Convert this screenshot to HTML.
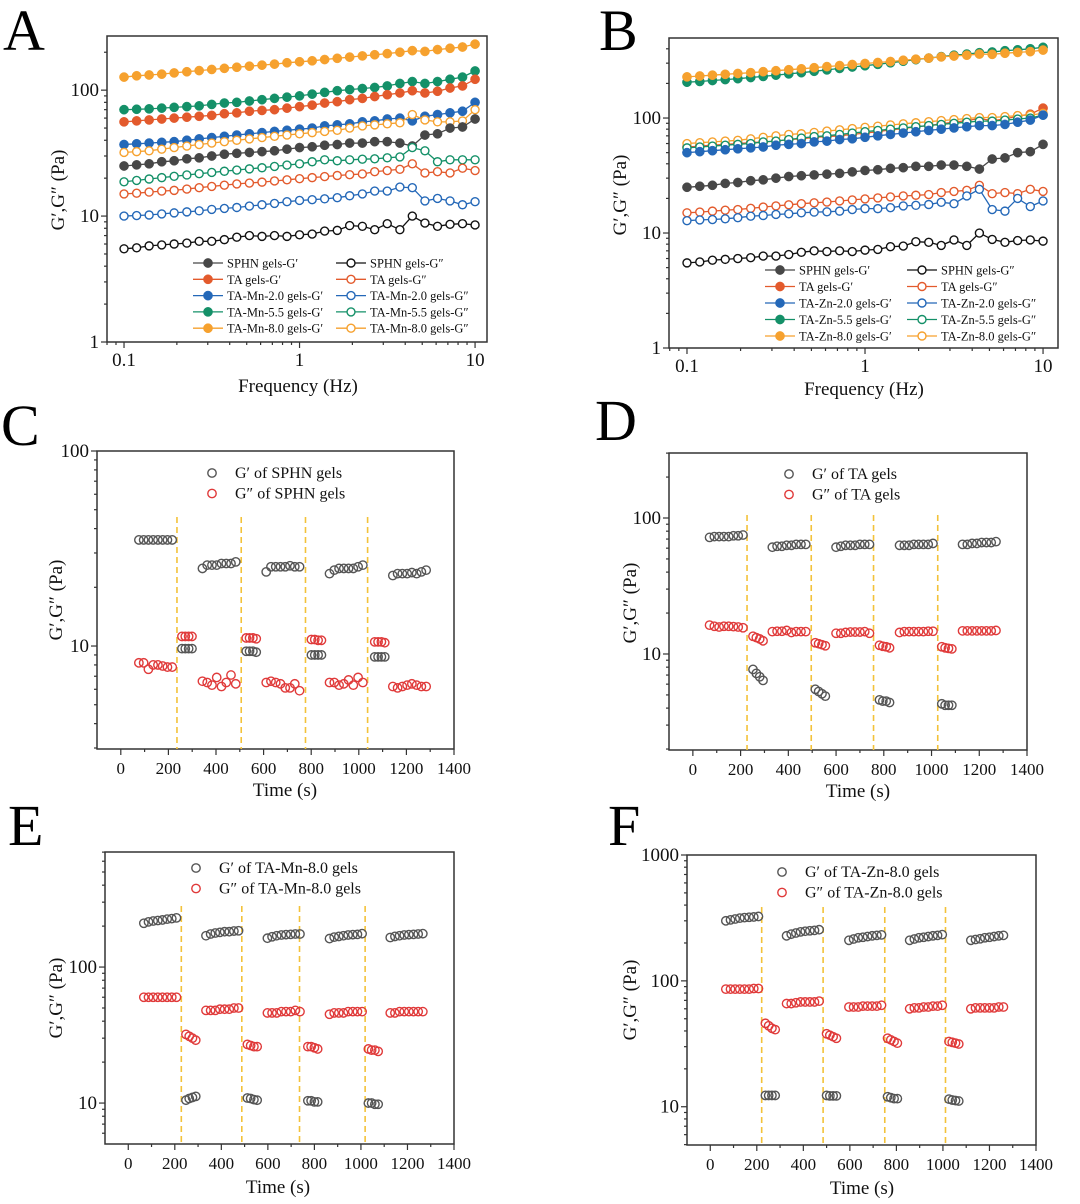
<!DOCTYPE html>
<html><head><meta charset="utf-8"><style>
html,body{margin:0;padding:0;background:#fff;}
svg{display:block;font-family:"Liberation Serif",serif;}
</style></head><body>
<svg id="fig" width="1080" height="1204" viewBox="0 0 1080 1204" xmlns="http://www.w3.org/2000/svg">
<rect x="0" y="0" width="1080" height="1204" fill="#fff"/>
</svg>
<script>
// ===== Frequency sweep data (panels A, B) =====
const freq = [0.1,0.118,0.139,0.164,0.193,0.228,0.268,0.316,0.373,0.439,0.518,0.611,0.72,0.848,1,1.18,1.39,1.64,1.93,2.28,2.68,3.16,3.73,4.39,5.18,6.11,7.2,8.48,10];
const sphnG1 = [25,25.5,26,27,27.5,28.5,29,30,31,31.5,32,32.5,33,34,35,35.5,36.5,37,38,38,39,39,38,36,44,45,50,51,59];
const sphnG2 = [5.5,5.6,5.8,5.9,6,6.1,6.3,6.3,6.5,6.8,7,6.9,7,6.9,7.1,7.2,7.6,7.7,8.4,8.3,7.8,8.7,7.8,10,8.8,8.3,8.6,8.7,8.5];
const taG1 = [56,57,58,59,60,61,62,63,65,66,68,69,70,72,74,76,79,81,84,86,89,92,95,99,95,98,104,108,122];
const taG2 = [15,15.2,15.5,15.8,16,16.4,16.8,17.2,17.6,18,18.3,18.6,19,19.4,19.8,20.2,20.6,21,21.3,21.6,22.5,23,23.5,26,22,22.5,22,24,23];
const mn20G1 = [37,37.5,38,38.5,39,40,41,42,43,44,45,46,47,48,49,50,52,53,54,56,57,59,60,57,62,64,66,68,80];
const mn20G2 = [10,10.1,10.2,10.4,10.6,10.8,11,11.3,11.5,11.7,12,12.3,12.6,13,13.3,13.5,13.7,14,14.5,15,15.8,15.8,17,16.8,13.2,13.8,13.2,12.3,13];
const mn55G1 = [70,70.5,71,72,73,74,75,77,79,80,82,84,86,88,90,93,96,99,101,103,105,108,113,117,113,117,122,127,142];
const mn55G2 = [18.7,19.2,19.7,20.2,20.7,21.2,21.7,22.2,22.7,23.2,23.7,24.2,24.8,25.4,26,27,28,27.5,28,28.3,28.5,29,29.5,35,33,27,28,28,28];
const mn80G1 = [127,130,132,134,137,140,143,146,149,152,155,158,161,165,168,171,175,179,183,187,191,195,200,206,203,210,215,220,232];
const mn80G2 = [32,32.5,33,34,35,36,37,38,39,40,41,42,43,44,45,46,47,48,50,52,53,54,55,64,58,56,56,57,70];
const zn20G1 = [50,51,52,53,54,55,56,58,59,60,62,63,65,66,68,70,72,74,76,78,80,82,84,86,86,88,92,96,106];
const zn20G2 = [12.8,13,13.1,13.3,13.6,14,14.2,14.5,14.7,15,15.2,15.3,15.5,16,16.3,16.3,16.6,17.2,17.4,17.7,18.5,18,21,24,16,15.5,20,17,19];
const zn55G1 = [205,208,212,216,220,225,230,236,242,248,255,262,270,278,285,293,302,312,322,332,342,352,360,370,375,385,392,400,412];
const zn55G2 = [55,56,57,58,59,60,62,63,65,67,69,70,72,74,76,78,80,82,84,86,88,90,92,94,94,96,98,100,106];
const zn80G1 = [228,232,236,240,244,248,253,258,263,268,274,280,286,292,298,304,310,318,325,332,340,346,352,360,358,366,372,378,390];
const zn80G2 = [60,61,62,63,64,66,68,70,72,73,75,77,79,81,83,85,87,89,91,93,95,97,99,101,101,103,105,106,110];

// ===== Time sweep data (panels C-F) =====
const cLowStart = [76,343,611,877,1143];
const cHighStart = [257,527,801,1067];
const cGpLow = [[35,35,35,35,35,35,35,35],[25,26,26,26,26.5,26.5,26.5,27],[24,25.5,25.5,25.5,25.5,25.8,25.5,25.5],[23.5,24.5,25,25,25,25,25.5,26],[23,23.5,23.5,23.5,23.8,23.5,24,24.5]];
const cGpHigh = [[9.7,9.7,9.7,9.7],[9.4,9.4,9.4,9.3],[9.0,9.0,9.0,9.0],[8.8,8.8,8.8,8.8]];
const cGppLow = [[8.2,8.2,7.6,8,8,7.9,7.8,7.8],[6.6,6.5,6.3,6.9,6.2,6.5,7.1,6.4],[6.5,6.6,6.5,6.4,6.1,6.1,6.4,5.9],[6.5,6.5,6.3,6.4,6.7,6.3,6.9,6.5],[6.2,6.1,6.2,6.3,6.4,6.3,6.2,6.2]];
const cGppHigh = [[11.2,11.2,11.2,11.2],[11,11,11,10.9],[10.8,10.8,10.7,10.7],[10.5,10.5,10.5,10.4]];
const cLines = [236,506,776,1037];

const dLowStart = [70,333,600,866,1130];
const dHighStart = [252,513,782,1043];
const dGpLow = [[72,73,73,73,73,74,74,75],[61,62,62,63,63,64,64,64],[61,62,63,63,63,64,64,64],[63,63,63,64,64,64,64,65],[64,64,65,65,66,66,66,67]];
const dGpHigh = [[7.7,7.2,6.8,6.4],[5.5,5.3,5.1,4.9],[4.6,4.5,4.5,4.4],[4.3,4.2,4.2,4.2]];
const dGppLow = [[16.3,16,15.8,16,16,15.9,15.8,15.6],[14.6,14.7,14.7,14.9,14.4,14.6,14.6,14.6],[14.2,14.2,14.4,14.5,14.5,14.5,14.6,14.2],[14.4,14.6,14.6,14.6,14.6,14.6,14.7,14.7],[14.8,14.8,14.8,14.8,14.8,14.8,14.8,14.9]];
const dGppHigh = [[13.5,13.2,12.9,12.5],[12.1,11.9,11.7,11.5],[11.6,11.4,11.3,11.1],[11.3,11.1,11.0,10.9]];
const dLines = [227,496,757,1026];

const eLowStart = [67,334,598,865,1126];
const eHighStart = [248,512,772,1032];
const eGpLow = [[210,215,218,220,222,225,227,230],[170,175,178,180,182,182,184,185],[163,167,170,172,173,174,175,175],[162,166,168,170,172,173,174,176],[165,168,170,172,173,174,175,176]];
const eGpHigh = [[10.5,10.8,11,11.2],[10.9,10.8,10.6,10.5],[10.4,10.4,10.2,10.2],[10,10,9.8,9.8]];
const eGppLow = [[60,60,60,60,60,60,60,60],[48,48,48,49,49,49,50,50],[46,46,46,47,47,47,48,47],[45,46,46,46,47,47,47,47],[46,46,47,47,47,47,47,47]];
const eGppHigh = [[32,31,30,29],[27,26.5,26,26],[26,26,25.5,25],[25,24.5,24.5,24]];
const eLines = [228,488,736,1018];

const fLowStart = [67,328,596,857,1120];
const fHighStart = [237,500,762,1026];
const fGpLow = [[300,305,310,315,318,320,322,325],[228,235,240,245,248,250,252,255],[210,215,220,222,225,228,230,232],[210,215,220,222,225,228,230,233],[210,213,216,220,222,225,228,230]];
const fGpHigh = [[12.3,12.3,12.3,12.3],[12.3,12.2,12.2,12.2],[12,11.8,11.6,11.6],[11.5,11.3,11.2,11.1]];
const fGppLow = [[86,86,86,86,86,86,87,87],[66,66,67,68,68,68,68,69],[62,62,62,63,63,63,63,64],[60,61,61,62,62,63,63,64],[60,61,61,61,61,61,62,62]];
const fGppHigh = [[46,44,42,41],[38,37,36,35],[35,34,33,32],[33,32.5,32,31.5]];
const fLines = [221,485,750,1011];

const xTicksTime = [0,200,400,600,800,1000,1200,1400];

const NS='http://www.w3.org/2000/svg';
const svg=document.getElementById('fig');
function mk(tag, attrs, parent){
  const e=document.createElementNS(NS,tag);
  for(const k in attrs) e.setAttribute(k,attrs[k]);
  (parent||svg).appendChild(e);
  return e;
}
function txt(s, attrs, parent){ const t=mk('text',attrs,parent); t.textContent=s; return t; }
const L10=Math.log10;

function makeAxes(p){
  const g=mk('g',{});
  
  
  const sx = p.xlog ? (v=>p.l+(L10(v)-p.xlo)/(p.xhi-p.xlo)*(p.r-p.l)) : (v=>p.l+(v-p.xlo)/(p.xhi-p.xlo)*(p.r-p.l));
  const sy = v=>p.b-(L10(v)-p.ylo)/(p.yhi-p.ylo)*(p.b-p.t);
  const fr=mk('rect',{x:p.l,y:p.t,width:p.r-p.l,height:p.b-p.t,fill:'none',stroke:'#333','stroke-width':1.5},g);
  
  
  // y log ticks
  for(let e=Math.floor(p.ylo); e<=Math.ceil(p.yhi); e++){
    for(let m=1;m<10;m++){
      const v=m*Math.pow(10,e), lv=L10(v);
      if(lv<p.ylo-1e-6||lv>p.yhi+1e-6) continue;
      const y=sy(v), len=m===1?6:3;
      mk('line',{x1:p.l-len,y1:y,x2:p.l,y2:y,stroke:'#333','stroke-width':1.2},g);
      if(m===1){
        const t=txt(String(v),{x:p.l-8,y:y+6,'text-anchor':'end','font-size':p.fs||19,fill:'#111'},g);
        
        
      }
    }
  }
  if(p.xlog){
    for(let e=Math.floor(p.xlo); e<=Math.ceil(p.xhi); e++){
      for(let m=1;m<10;m++){
        const v=m*Math.pow(10,e), lv=L10(v);
        if(lv<p.xlo||lv>p.xhi) continue;
        const x=sx(v), len=m===1?6:3;
        mk('line',{x1:x,y1:p.b,x2:x,y2:p.b+len,stroke:'#333','stroke-width':1.2},g);
        if(m===1){
          const t=txt(String(v),{x:x,y:p.b+24,'text-anchor':'middle','font-size':p.fs||19,fill:'#111'},g);
          
          
        }
      }
    }
  } else {
    for(let v=0; v<=1400; v+=100){
      const x=sx(v), major=(v%200===0);
      mk('line',{x1:x,y1:p.b,x2:x,y2:p.b+(major?6:3),stroke:'#333','stroke-width':1.2},g);
    }
    xTicksTime.forEach(v=>{
      const t=txt(String(v),{x:sx(v),y:p.b+25,'text-anchor':'middle','font-size':17,fill:'#111'},g);
      
      
    });
  }
  const xt=txt(p.xtitle,{x:p.xtx,y:p.xty,'text-anchor':'middle','font-size':19,fill:'#111'},g);
  
  
  const yt=txt('G′,G″ (Pa)',{x:0,y:0,'text-anchor':'middle','font-size':19,fill:'#111',transform:`translate(${p.ytx},${p.yty}) rotate(-90)`},g);
  
  
  const pl=txt(p.letter,{x:p.lx,y:p.ly,'font-size':58,fill:'#000'},g);
  
  
  return {sx,sy};
}

function freqSeries(ax, vals, color, filled, name){
  const g=mk('g',{});
  
  
  const pts=vals.map((v,i)=>ax.sx(freq[i]).toFixed(1)+','+ax.sy(v).toFixed(1)).join(' ');
  mk('polyline',{points:pts,fill:'none',stroke:color,'stroke-width':1.3},g);
  vals.forEach((v,i)=>{
    const c=mk('circle',{cx:ax.sx(freq[i]),cy:ax.sy(v),r:filled?4.6:4,fill:filled?color:'#fff',stroke:color,'stroke-width':filled?0.5:1.4},g);
    
    
  });
}

function legendFreq(x, y, color, filled, label, fs){
  const g=mk('g',{});
  
  
  mk('line',{x1:x,y1:y,x2:x+30,y2:y,stroke:color,'stroke-width':1.3},g);
  mk('circle',{cx:x+15,cy:y,r:filled?4.6:4,fill:filled?color:'#fff',stroke:color,'stroke-width':filled?0.5:1.4},g);
  txt(label,{x:x+34,y:y+4.5,'font-size':fs,fill:'#111'},g);
}

// Panel A
const C_BLK='#474747', C_RED='#e35a2c', C_BLU='#2468b8', C_GRN='#149068', C_ORG='#f6a12e';
const axA=makeAxes({name:'panel-a',l:107,t:36,r:487,b:342,xlog:true,xlo:-1.097,xhi:1.068,ylo:0,yhi:2.43,
  xtitle:'Frequency (Hz)',xtx:298,xty:392,ytx:64,yty:190,letter:'A',lx:3,ly:50});
[[mn80G1,C_ORG,1,'mn80-g1'],[mn55G1,C_GRN,1,'mn55-g1'],[taG1,C_RED,1,'ta-g1'],[mn20G1,C_BLU,1,'mn20-g1'],[mn80G2,C_ORG,0,'mn80-g2'],[sphnG1,C_BLK,1,'sphn-g1'],[mn55G2,C_GRN,0,'mn55-g2'],[taG2,C_RED,0,'ta-g2'],[mn20G2,C_BLU,0,'mn20-g2'],[sphnG2,'#111',0,'sphn-g2']]
  .forEach(s=>freqSeries(axA,s[0],s[1],s[2],'series-a-'+s[3]));
const legA=[['SPHN gels-G′',C_BLK,1],['SPHN gels-G″','#111',0],['TA gels-G′',C_RED,1],['TA gels-G″',C_RED,0],['TA-Mn-2.0 gels-G′',C_BLU,1],['TA-Mn-2.0 gels-G″',C_BLU,0],['TA-Mn-5.5 gels-G′',C_GRN,1],['TA-Mn-5.5 gels-G″',C_GRN,0],['TA-Mn-8.0 gels-G′',C_ORG,1],['TA-Mn-8.0 gels-G″',C_ORG,0]];
legA.forEach((e,i)=>legendFreq(i%2?336:193, 263+Math.floor(i/2)*16.3, e[1], e[2], e[0], 12.5));

// Panel B
const axB=makeAxes({name:'panel-b',l:669,t:38,r:1058,b:348,xlog:true,xlo:-1.101,xhi:1.084,ylo:0,yhi:2.696,
  xtitle:'Frequency (Hz)',xtx:864,xty:395,ytx:626,yty:195,letter:'B',lx:599,ly:50});
[[taG1,C_RED,1,'ta-g1'],[zn55G1,C_GRN,1,'zn55-g1'],[zn80G1,C_ORG,1,'zn80-g1'],[zn80G2,C_ORG,0,'zn80-g2'],[zn55G2,C_GRN,0,'zn55-g2'],[zn20G1,C_BLU,1,'zn20-g1'],[sphnG1,C_BLK,1,'sphn-g1'],[taG2,C_RED,0,'ta-g2'],[zn20G2,C_BLU,0,'zn20-g2'],[sphnG2,'#111',0,'sphn-g2']]
  .forEach(s=>freqSeries(axB,s[0],s[1],s[2],'series-b-'+s[3]));
const legB=[['SPHN gels-G′',C_BLK,1],['SPHN gels-G″','#111',0],['TA gels-G′',C_RED,1],['TA gels-G″',C_RED,0],['TA-Zn-2.0 gels-G′',C_BLU,1],['TA-Zn-2.0 gels-G″',C_BLU,0],['TA-Zn-5.5 gels-G′',C_GRN,1],['TA-Zn-5.5 gels-G″',C_GRN,0],['TA-Zn-8.0 gels-G′',C_ORG,1],['TA-Zn-8.0 gels-G″',C_ORG,0]];
legB.forEach((e,i)=>legendFreq(i%2?907:765, 270+Math.floor(i/2)*16.5, e[1], e[2], e[0], 12.5));

// Time panels
const C_GP='#555', C_GPP='#e03a3a', C_VL='#f3c23a';
function timePanel(p, lowStart, highStart, gpLow, gpHigh, gppLow, gppHigh, lines, legLabels){
  const ax=makeAxes(Object.assign({xlog:false,xlo:-100,xhi:1400,xtitle:'Time (s)'},p));
  lines.forEach(t=>{
    const l=mk('line',{x1:ax.sx(t),y1:p.vt,x2:ax.sx(t),y2:p.b,stroke:C_VL,'stroke-width':1.6,'stroke-dasharray':'6,4'});
    
    
  });
  function pts(starts, vals, step, color, name){
    const g=mk('g',{});
    
    
    vals.forEach((seg,si)=>seg.forEach((v,i)=>{
      const c=mk('circle',{cx:ax.sx(starts[si]+i*step),cy:ax.sy(v),r:4.2,fill:'none',stroke:color,'stroke-width':1.4},g);
      
      
    }));
  }
  pts(lowStart,gpLow,20,C_GP,p.name+'-gprime-low');
  pts(highStart,gpHigh,14,C_GP,p.name+'-gprime-high');
  pts(lowStart,gppLow,20,C_GPP,p.name+'-gdouble-low');
  pts(highStart,gppHigh,14,C_GPP,p.name+'-gdouble-high');
  [[legLabels[0],C_GP],[legLabels[1],C_GPP]].forEach((e,i)=>{
    const g=mk('g',{});
    
    
    mk('circle',{cx:p.legx,cy:p.legy+i*20.5,r:4.2,fill:'none',stroke:e[1],'stroke-width':1.4},g);
    txt(e[0],{x:p.legx+23,y:p.legy+i*20.5+5,'font-size':16,fill:'#111'},g);
  });
}
timePanel({name:'panel-c',l:97,t:451,r:454,b:749,ylo:0.472,yhi:2,vt:517,xtx:285,xty:796,ytx:62,yty:600,letter:'C',lx:1,ly:445,legx:212,legy:473},
  cLowStart,cHighStart,cGpLow,cGpHigh,cGppLow,cGppHigh,cLines,['G′ of SPHN gels','G″ of SPHN gels']);
timePanel({name:'panel-d',l:669,t:453,r:1027,b:750,ylo:0.294,yhi:2.478,vt:515,xtx:858,xty:797,ytx:636,yty:603,letter:'D',lx:595,ly:440,legx:789,legy:474},
  dLowStart,dHighStart,dGpLow,dGpHigh,dGppLow,dGppHigh,dLines,['G′ of TA gels','G″ of TA gels']);
timePanel({name:'panel-e',l:105,t:852,r:454,b:1144,ylo:0.699,yhi:2.846,vt:906,xtx:278,xty:1193,ytx:62,yty:998,letter:'E',lx:8,ly:845,legx:196,legy:868},
  eLowStart,eHighStart,eGpLow,eGpHigh,eGppLow,eGppHigh,eLines,['G′ of TA-Mn-8.0 gels','G″ of TA-Mn-8.0 gels']);
timePanel({name:'panel-f',l:687,t:855,r:1036,b:1145,ylo:0.696,yhi:3,vt:907,xtx:862,xty:1194,ytx:636,yty:1000,letter:'F',lx:608,ly:845,legx:782,legy:872},
  fLowStart,fHighStart,fGpLow,fGpHigh,fGppLow,fGppHigh,fLines,['G′ of TA-Zn-8.0 gels','G″ of TA-Zn-8.0 gels']);
</script>
</body></html>
